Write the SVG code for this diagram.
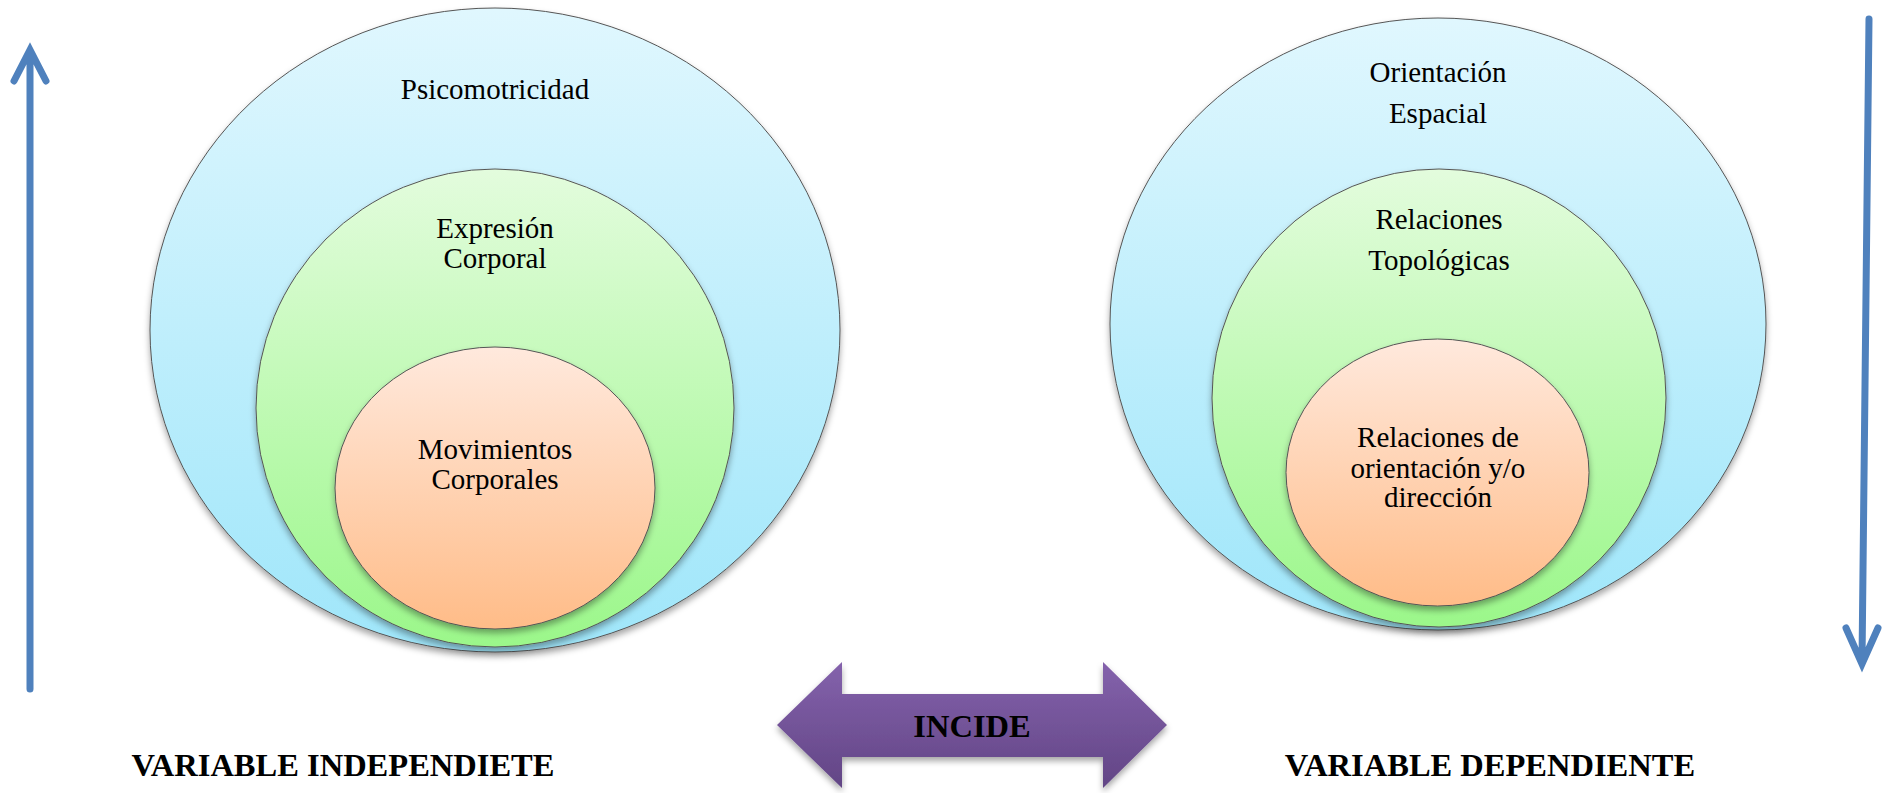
<svg xmlns="http://www.w3.org/2000/svg" width="1895" height="793" viewBox="0 0 1895 793">
<defs>
<linearGradient id="gBlue" x1="0" y1="0" x2="0" y2="1"><stop offset="0" stop-color="#E0F7FE"/><stop offset="1" stop-color="#9FE6FA"/></linearGradient>
<linearGradient id="gGreen" x1="0" y1="0" x2="0" y2="1"><stop offset="0" stop-color="#E3FCDD"/><stop offset="1" stop-color="#9BF78A"/></linearGradient>
<linearGradient id="gOrange" x1="0" y1="0" x2="0" y2="1"><stop offset="0" stop-color="#FFE9DD"/><stop offset="1" stop-color="#FFBC88"/></linearGradient>
<linearGradient id="gPurple" x1="0" y1="0" x2="0" y2="1"><stop offset="0" stop-color="#8462AC"/><stop offset="1" stop-color="#624585"/></linearGradient>
<filter id="sh" x="-10%" y="-10%" width="120%" height="125%"><feDropShadow dx="0" dy="4" stdDeviation="3" flood-color="#000" flood-opacity="0.35"/></filter>
</defs>
<style>
.ell{stroke:#555;stroke-width:1;filter:url(#sh)}
text{font-family:'Liberation Serif','Times New Roman',Times,'DejaVu Serif',serif;fill:#000;text-anchor:middle}
.lbl{font-size:29px}
.bold{font-size:32.5px;font-weight:bold}
.arr{fill:none;stroke:#4F81BD;stroke-width:7;stroke-linecap:round;stroke-linejoin:miter}
</style>
<g id="connectors">
<path class="arr" d="M30,689 L30,52 M14,81 L30,50 L46,81"/>
<path class="arr" d="M1869,19 L1862,662 M1846,628 L1862,664 L1878,628"/>
</g>
<g id="psicomotricidad">
<ellipse class="ell" cx="495" cy="330" rx="345" ry="322" fill="url(#gBlue)"/>
<text class="lbl" x="495" y="99">Psicomotricidad</text>
</g>
<g id="expresion-corporal">
<ellipse class="ell" cx="495" cy="408" rx="239" ry="239" fill="url(#gGreen)"/>
<text class="lbl" x="495" y="238">Expresión</text>
<text class="lbl" x="495" y="268">Corporal</text>
</g>
<g id="movimientos-corporales">
<ellipse class="ell" cx="495" cy="488" rx="160" ry="141" fill="url(#gOrange)"/>
<text class="lbl" x="495" y="459">Movimientos</text>
<text class="lbl" x="495" y="489">Corporales</text>
</g>
<g id="orientacion-espacial">
<ellipse class="ell" cx="1438" cy="324" rx="328" ry="306" fill="url(#gBlue)"/>
<text class="lbl" x="1438" y="82">Orientación</text>
<text class="lbl" x="1438" y="123">Espacial</text>
</g>
<g id="relaciones-topologicas">
<ellipse class="ell" cx="1439" cy="398" rx="227" ry="229" fill="url(#gGreen)"/>
<text class="lbl" x="1439" y="229">Relaciones</text>
<text class="lbl" x="1439" y="270">Topológicas</text>
</g>
<g id="relaciones-orientacion">
<ellipse class="ell" cx="1437.5" cy="472.5" rx="151.5" ry="133.5" fill="url(#gOrange)"/>
<text class="lbl" x="1438" y="447">Relaciones de</text>
<text class="lbl" x="1438" y="478">orientación y/o</text>
<text class="lbl" x="1438" y="507">dirección</text>
</g>
<g id="incide">
<polygon points="777,725 842,662 842,694 1103,694 1103,662 1167,725 1103,788 1103,757 842,757 842,788" fill="url(#gPurple)" filter="url(#sh)"/>
<text class="bold" x="972" y="737">INCIDE</text>
</g>
<g id="labels">
<text class="bold" x="343" y="776">VARIABLE INDEPENDIETE</text>
<text class="bold" x="1490" y="776">VARIABLE DEPENDIENTE</text>
</g>
</svg>
